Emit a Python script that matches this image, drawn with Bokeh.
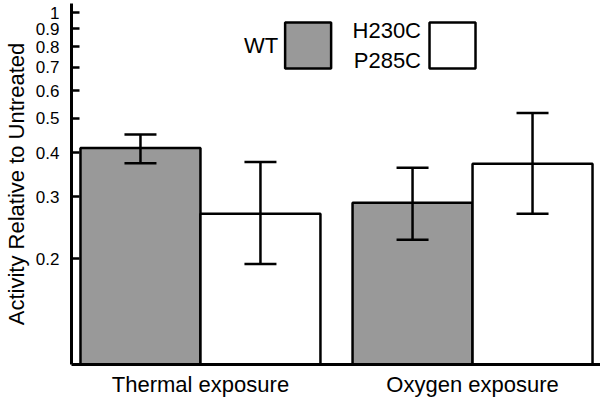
from bokeh.plotting import figure
from bokeh.models import ColumnDataSource, FactorRange, Whisker, TeeHead, Range1d, NumeralTickFormatter
from bokeh.transform import dodge
from bokeh.core.properties import value
from bokeh.embed import file_html
from bokeh.resources import INLINE

# ---- data ----
groups = ["Thermal exposure", "Oxygen exposure"]
wt_values = [0.412, 0.288]
wt_upper = [0.450, 0.362]
wt_lower = [0.373, 0.226]
mut_values = [0.268, 0.372]
mut_upper = [0.376, 0.518]
mut_lower = [0.193, 0.268]
y_ticks = [0.2, 0.3, 0.4, 0.5, 0.6, 0.7, 0.8, 0.9, 1.0]
legend_labels = ["WT", "H230C\nP285C"]
legend_colors = ["#999999", "#ffffff"]

# ---- style / layout ----
y_start, y_end = 0.1, 1.061
bar_w = 0.441
FONT = "Liberation Sans"

src = ColumnDataSource(dict(group=groups, wt=wt_values, wt_up=wt_upper, wt_lo=wt_lower,
                            mut=mut_values, mut_up=mut_upper, mut_lo=mut_lower))

p = figure(frame_width=530, frame_height=361,
           x_range=FactorRange(*groups, range_padding=-0.026, range_padding_units="absolute"),
           y_range=Range1d(y_start, y_end), y_axis_type="log",
           output_backend="svg", toolbar_location=None,
           min_border_left=70, min_border_right=0, min_border_top=3, min_border_bottom=0)
p.outline_line_color = None
p.xgrid.visible = False
p.ygrid.visible = False
p.background_fill_color = "white"

x_wt = dodge("group", -bar_w / 2, range=p.x_range)
x_mut = dodge("group", bar_w / 2, range=p.x_range)

p.vbar(x=x_wt, top="wt", bottom=y_start, width=bar_w, source=src,
       fill_color=legend_colors[0], line_color="black", line_width=2.5)
p.vbar(x=x_mut, top="mut", bottom=y_start, width=bar_w, source=src,
       fill_color=legend_colors[1], line_color="black", line_width=2.5)

for base, up, lo in [(x_wt, "wt_up", "wt_lo"), (x_mut, "mut_up", "mut_lo")]:
    w = Whisker(source=src, base=base, upper=up, lower=lo, line_color="black", line_width=2.5,
                upper_head=TeeHead(size=32, line_width=2.5, line_color="black"),
                lower_head=TeeHead(size=32, line_width=2.5, line_color="black"),
                level="annotation")
    p.add_layout(w)

# legend (custom: label to the left of the swatch)
leg_x = [0.8957, 1.4264]
leg_y = [0.806, 0.806]
p.rect(x=leg_x, y=leg_y, width=46, height=46, width_units="screen", height_units="screen",
       fill_color=legend_colors, line_color="black", line_width=2.5)
p.text(x=leg_x, y=leg_y, text=legend_labels, x_offset=[-30, -31.5],
       text_align="right", text_baseline="middle", text_line_height=1.23,
       text_font=value(FONT), text_font_size="22px", text_color="black")

# axes
yax = p.yaxis[0]
yax.ticker = y_ticks
yax.formatter = NumeralTickFormatter(format="0.[0]")
yax.major_tick_in = 8
yax.major_tick_out = 0
yax.major_tick_line_width = 2.5
yax.minor_tick_line_color = None
yax.axis_line_width = 3
yax.major_label_standoff = 12
yax.major_label_text_font = FONT
yax.major_label_text_font_size = "17px"
yax.major_label_text_color = "black"
yax.axis_label = "Activity Relative to Untreated"
yax.axis_label_text_font = FONT
yax.axis_label_text_font_size = "22px"
yax.axis_label_text_font_style = "normal"
yax.axis_label_text_color = "black"
yax.axis_label_standoff = 4

xax = p.xaxis[0]
xax.major_tick_line_color = None
xax.major_tick_in = 0
xax.major_tick_out = 0
xax.axis_line_width = 3
xax.major_label_standoff = 7
xax.major_label_text_font = FONT
xax.major_label_text_font_size = "22px"
xax.major_label_text_color = "black"

open("out.html", "w").write(file_html(p, INLINE))
